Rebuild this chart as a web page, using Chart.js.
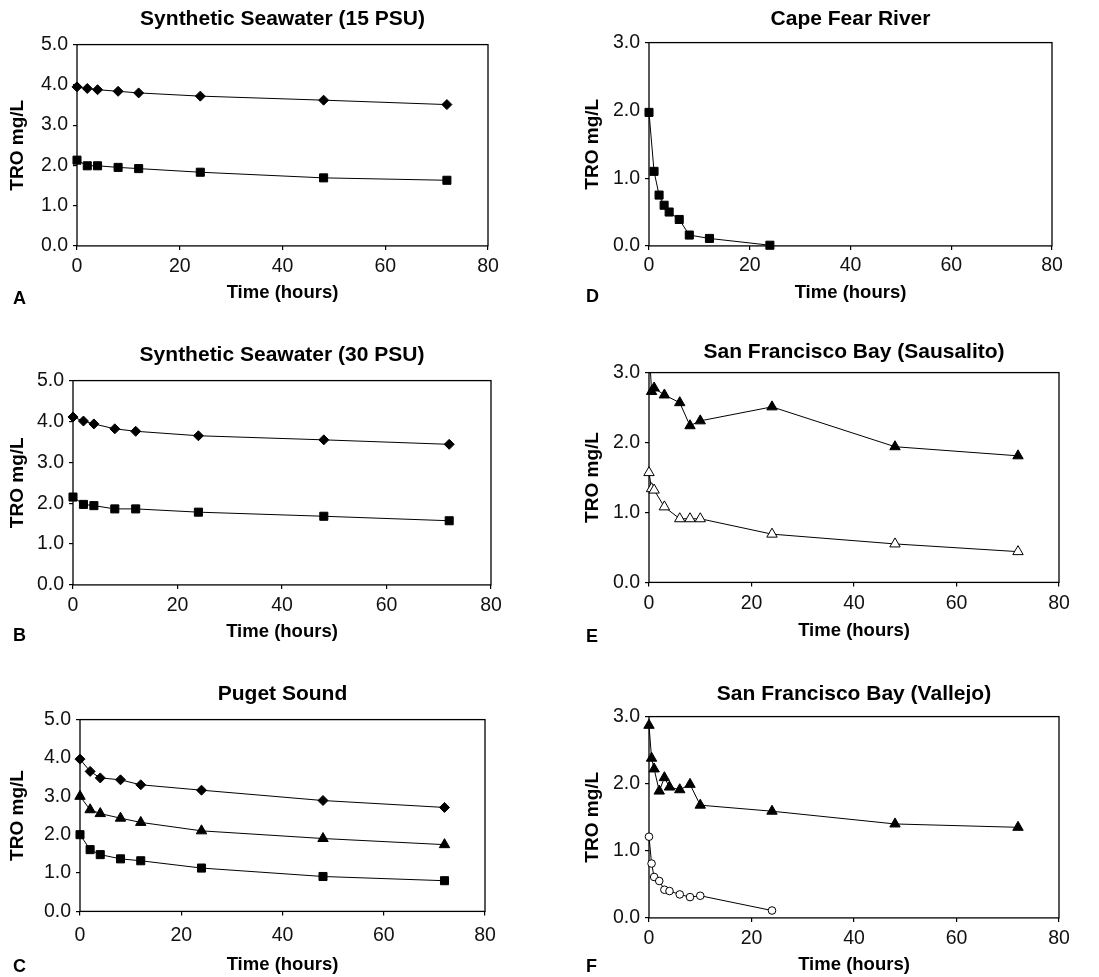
<!DOCTYPE html>
<html>
<head>
<meta charset="utf-8">
<title>TRO decay</title>
<script src="https://cdn.jsdelivr.net/npm/chart.js@4.4.1/dist/chart.umd.min.js"></script>
<style>
    body { margin: 0; background: #fff; }
    #page { position: relative; width: 1099px; height: 977px; overflow: hidden; background: #fff; }
    #page canvas { position: absolute; }
    .letter { position: absolute; font: bold 18px "Liberation Sans", Arial, sans-serif; line-height: 18px; color: #000; }
</style>
</head>
<body>
<div id="page"></div>
<script>
// sampling times (hours)
const hoursStd = [0, 2, 4, 8, 12, 24, 48, 72];
const hoursCape = [0, 1, 2, 3, 4, 6, 8, 12, 24];
const hoursSaus = [0, 0.5, 1, 3, 6, 8, 10, 24, 48, 72];
const hoursVallejo = [0, 0.5, 1, 2, 3, 4, 6, 8, 10, 24, 48, 72];
const hoursVallejoOpen = [0, 0.5, 1, 2, 3, 4, 6, 8, 10, 24];

// TRO mg/L
const ss15Diamond = [3.95, 3.91, 3.88, 3.84, 3.80, 3.72, 3.62, 3.51];
const ss15Square = [2.13, 1.99, 1.99, 1.95, 1.92, 1.83, 1.69, 1.63];
const ss30Diamond = [4.11, 4.01, 3.94, 3.82, 3.76, 3.65, 3.55, 3.44];
const ss30Square = [2.15, 1.97, 1.94, 1.86, 1.86, 1.78, 1.68, 1.57];
const pugetDiamond = [3.97, 3.65, 3.48, 3.43, 3.30, 3.16, 2.89, 2.71];
const pugetTriangle = [3.00, 2.65, 2.55, 2.43, 2.32, 2.10, 1.90, 1.74];
const pugetSquare = [2.00, 1.61, 1.48, 1.37, 1.32, 1.13, 0.91, 0.80];
const capeSquare = [1.97, 1.10, 0.75, 0.60, 0.50, 0.39, 0.16, 0.11, 0.01];
const sausFilled = [3.4, 2.73, 2.78, 2.68, 2.57, 2.24, 2.31, 2.51, 1.94, 1.81];
const sausOpen = [1.57, 1.34, 1.32, 1.08, 0.91, 0.91, 0.91, 0.69, 0.55, 0.44];
const vallejoFilled = [2.87, 2.38, 2.22, 1.89, 2.09, 1.95, 1.91, 1.99, 1.68, 1.59, 1.40, 1.35];
const vallejoOpen = [1.21, 0.81, 0.61, 0.55, 0.42, 0.40, 0.35, 0.31, 0.33, 0.11];

const xMax = 80, xStep = 20;
const FONT = '"Liberation Sans", Arial, Helvetica, sans-serif';

const markers = {
    diamond: { pointStyle: 'rectRot', pointRadius: 5 },
    square: { pointStyle: 'rect', pointRadius: 5.7 },
    triangle: { pointStyle: 'triangle', pointRadius: 6 },
    circle: { pointStyle: 'circle', pointRadius: 3.8 }
};

function series(xs, ys, marker, filled, clip) {
    return { xs, ys, marker, filled, clip };
}

// plot rect = [left, top, right, bottom] of the chart area on the page
const panels = [
    { letter: 'A', title: 'Synthetic Seawater (15 PSU)', yMax: 5, rect: [77, 45, 488, 246],
      titleGap: 25, yTitleOff: 59, xLabelGap: 20.7, xTitleGap: 47, letterAt: [13, 291],
      series: [series(hoursStd, ss15Diamond, 'diamond', true), series(hoursStd, ss15Square, 'square', true)] },
    { letter: 'B', title: 'Synthetic Seawater (30 PSU)', yMax: 5, rect: [73, 381, 491, 585],
      titleGap: 25, yTitleOff: 55, xLabelGap: 20.7, xTitleGap: 47, letterAt: [13, 628],
      series: [series(hoursStd, ss30Diamond, 'diamond', true), series(hoursStd, ss30Square, 'square', true)] },
    { letter: 'C', title: 'Puget Sound', yMax: 5, rect: [80, 720, 485, 912],
      titleGap: 25, yTitleOff: 62, xLabelGap: 24.7, xTitleGap: 53.5, letterAt: [13, 959],
      series: [series(hoursStd, pugetDiamond, 'diamond', true), series(hoursStd, pugetTriangle, 'triangle', true),
               series(hoursStd, pugetSquare, 'square', true)] },
    { letter: 'D', title: 'Cape Fear River', yMax: 3, rect: [649, 43, 1052, 246],
      titleGap: 23, yTitleOff: 56, xLabelGap: 20, xTitleGap: 47, letterAt: [586, 289],
      series: [series(hoursCape, capeSquare, 'square', true)] },
    { letter: 'E', title: 'San Francisco Bay (Sausalito)', yMax: 3, rect: [649, 373, 1059, 583],
      titleGap: 20, yTitleOff: 56, xLabelGap: 21, xTitleGap: 48.5, letterAt: [586, 629],
      series: [series(hoursSaus, sausFilled, 'triangle', true, { left: 12, top: 0, right: 12, bottom: 12 }),
               series(hoursSaus, sausOpen, 'triangle', false)] },
    { letter: 'F', title: 'San Francisco Bay (Vallejo)', yMax: 3, rect: [649, 717, 1059, 918],
      titleGap: 22, yTitleOff: 56, xLabelGap: 21, xTitleGap: 47, letterAt: [586, 959],
      series: [series(hoursVallejo, vallejoFilled, 'triangle', true), series(hoursVallejoOpen, vallejoOpen, 'circle', false)] }
];

const YW = 76;      // width reserved for y axis
const RP = 24;      // right padding
const TITLE_SIZE = 21, TICK_SIZE = 19.5, YTITLE_SIZE = 19, XTITLE_SIZE = 18.5;

const frameBox = {
    id: 'frameBox',
    beforeDatasetsDraw(chart) {
        const { ctx, chartArea: a } = chart;
        ctx.save();
        ctx.strokeStyle = '#000';
        ctx.lineWidth = 1.3;
        ctx.strokeRect(a.left, a.top, a.right - a.left, a.bottom - a.top);
        ctx.restore();
    }
};

const page = document.getElementById('page');

panels.forEach(p => {
    const [L, T, R, B] = p.rect;
    const titlePadTop = 4;
    const titlePadBottom = p.titleGap - TITLE_SIZE * 0.6;
    const topH = titlePadTop + TITLE_SIZE * 1.2 + titlePadBottom;
    const xh = p.xTitleGap + XTITLE_SIZE * 0.6 + 2;

    const canvas = document.createElement('canvas');
    const w = Math.round(R - L + YW + RP);
    const h = Math.round(B - T + topH + xh);
    canvas.width = w;
    canvas.height = h;
    canvas.style.width = w + 'px';
    canvas.style.height = h + 'px';
    canvas.style.left = (L - YW) + 'px';
    canvas.style.top = (T - topH) + 'px';
    page.appendChild(canvas);

    const letter = document.createElement('div');
    letter.className = 'letter';
    letter.textContent = p.letter;
    letter.style.left = p.letterAt[0] + 'px';
    letter.style.top = (p.letterAt[1] - 2.4) + 'px';
    page.appendChild(letter);

    const datasets = p.series.map(s => ({
        data: s.xs.map((x, i) => ({ x: x, y: s.ys[i] })),
        showLine: true,
        borderColor: '#000',
        borderWidth: 1,
        tension: 0,
        pointStyle: markers[s.marker].pointStyle,
        pointRadius: markers[s.marker].pointRadius,
        pointBackgroundColor: s.filled ? '#000' : '#fff',
        pointBorderColor: '#000',
        pointBorderWidth: 1,
        clip: s.clip ? s.clip : false
    }));

    new Chart(canvas.getContext('2d'), {
        type: 'scatter',
        data: { datasets },
        options: {
            responsive: false,
            animation: false,
            devicePixelRatio: 1,
            layout: { padding: { left: 0, right: RP, top: 0, bottom: 0 } },
            plugins: {
                legend: { display: false },
                tooltip: { enabled: false },
                title: {
                    display: true,
                    text: p.title,
                    fullSize: false,
                    color: '#000',
                    font: { family: FONT, size: TITLE_SIZE, weight: 'bold', lineHeight: 1.2 },
                    padding: { top: titlePadTop, bottom: titlePadBottom }
                }
            },
            scales: {
                x: {
                    type: 'linear',
                    min: 0,
                    max: xMax,
                    afterFit: scale => { scale.height = xh; },
                    border: { display: false },
                    grid: { drawOnChartArea: false, drawTicks: true, tickLength: 4, color: '#000', lineWidth: 1.2 },
                    ticks: {
                        stepSize: xStep,
                        color: '#111',
                        padding: p.xLabelGap - 4 - TICK_SIZE * 0.6,
                        maxRotation: 0,
                        font: { family: FONT, size: TICK_SIZE, lineHeight: 1.2 }
                    },
                    title: {
                        display: true,
                        text: 'Time (hours)',
                        color: '#000',
                        font: { family: FONT, size: XTITLE_SIZE, weight: 'bold', lineHeight: 1.2 },
                        padding: { top: 0, bottom: 2 }
                    }
                },
                y: {
                    type: 'linear',
                    min: 0,
                    max: p.yMax,
                    afterFit: scale => { scale.width = YW; },
                    border: { display: false },
                    grid: { drawOnChartArea: false, drawTicks: true, tickLength: 4, color: '#000', lineWidth: 1.2 },
                    ticks: {
                        stepSize: 1,
                        color: '#111',
                        padding: 5,
                        font: { family: FONT, size: TICK_SIZE, lineHeight: 1.2 },
                        callback: v => v.toFixed(1)
                    },
                    title: {
                        display: true,
                        text: 'TRO mg/L',
                        color: '#000',
                        font: { family: FONT, size: YTITLE_SIZE, weight: 'bold', lineHeight: 1.2 },
                        padding: { top: YW - p.yTitleOff - YTITLE_SIZE * 0.6, bottom: 0 }
                    }
                }
            }
        },
        plugins: [frameBox]
    });
});
</script>
</body>
</html>
